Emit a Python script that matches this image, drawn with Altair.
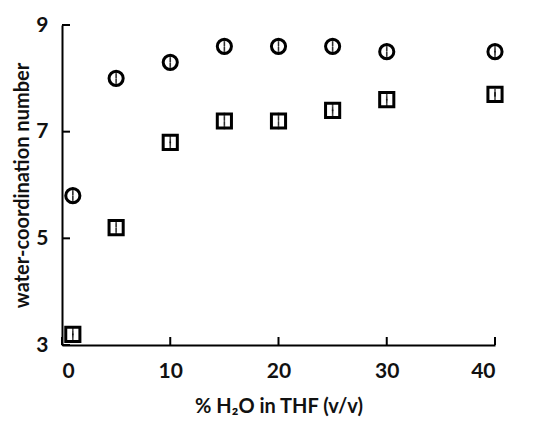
import altair as alt
import pandas as pd

x_vals = [1, 5, 10, 15, 20, 25, 30, 40]
circle_vals = [5.8, 8.0, 8.3, 8.6, 8.6, 8.6, 8.5, 8.5]
circle_err = [0.08, 0.08, 0.08, 0.08, 0.08, 0.08, 0.08, 0.06]
square_vals = [3.2, 5.2, 6.8, 7.2, 7.2, 7.4, 7.6, 7.7]
square_err = [0.06, 0.08, 0.06, 0.08, 0.08, 0.06, 0.06, 0.03]
x_ticks = [0, 10, 20, 30, 40]
y_ticks = [3, 5, 7, 9]

rows = []
for x, v, e in zip(x_vals, circle_vals, circle_err):
    rows.append({"x": x, "y": v, "lo": v - e, "hi": v + e, "series": "circle"})
for x, v, e in zip(x_vals, square_vals, square_err):
    rows.append({"x": x, "y": v, "lo": v - e, "hi": v + e, "series": "square"})
df = pd.DataFrame(rows)

W, H = 433, 320
FONT = "Lato"

xs = alt.Scale(domain=[0, 40], nice=False)
ys = alt.Scale(domain=[3, 9], nice=False)

xax = alt.Axis(values=x_ticks, ticks=False, grid=False, domainColor="black",
               domainWidth=2, labelFont=FONT, labelFontSize=21, labelFontWeight="bold",
               labelColor="#111", labelPadding=15, title="% H₂O in THF (v/v)",
               titleFont=FONT, titleFontSize=20, titleFontWeight="bold",
               titleColor="#111", titlePadding=15)
yax = alt.Axis(values=y_ticks, ticks=False, grid=False, domainColor="black",
               domainWidth=2, labelFont=FONT, labelFontSize=21, labelFontWeight="bold",
               labelColor="#111", labelPadding=14, title="water-coordination number",
               titleFont=FONT, titleFontSize=20, titleFontWeight="bold",
               titleColor="#111", titlePadding=3)

base = alt.Chart(df)

pts = base.mark_point(filled=False, fill="white", strokeWidth=3, size=200, color="black", opacity=1).encode(
    x=alt.X("x:Q", scale=xs, axis=xax),
    y=alt.Y("y:Q", scale=ys, axis=yax),
    shape=alt.Shape("series:N", scale=alt.Scale(domain=["circle", "square"], range=["circle", "square"]), legend=None),
)

caps_lo = base.mark_tick(color="black", thickness=1.6, size=8).encode(
    x=alt.X("x:Q", scale=xs, axis=xax), y=alt.Y("lo:Q", scale=ys, axis=yax))
caps_hi = base.mark_tick(color="black", thickness=1.6, size=8).encode(
    x=alt.X("x:Q", scale=xs, axis=xax), y=alt.Y("hi:Q", scale=ys, axis=yax))
vert = base.mark_rule(color="#555", strokeWidth=0.7).encode(
    x=alt.X("x:Q", scale=xs, axis=xax), y=alt.Y("lo:Q", scale=ys, axis=yax), y2="hi:Q")

yt = alt.Chart(pd.DataFrame({"v": y_ticks})).mark_rule(color="black", strokeWidth=2).encode(
    y=alt.Y("v:Q", scale=ys, axis=yax), x=alt.value(0), x2=alt.value(8))
xt = alt.Chart(pd.DataFrame({"v": x_ticks})).mark_rule(color="black", strokeWidth=2).encode(
    x=alt.X("v:Q", scale=xs, axis=xax), y=alt.value(H - 8), y2=alt.value(H))

chart = alt.layer(pts, yt, xt, vert, caps_lo, caps_hi).properties(
    width=W, height=H,
    background="white",
    autosize=alt.AutoSizeParams(type="none"),
    padding={"left": 54, "top": 17, "right": 10, "bottom": 80},
).configure_view(stroke=None)

chart.save("out.html", embed_options={"renderer": "svg", "actions": False})
